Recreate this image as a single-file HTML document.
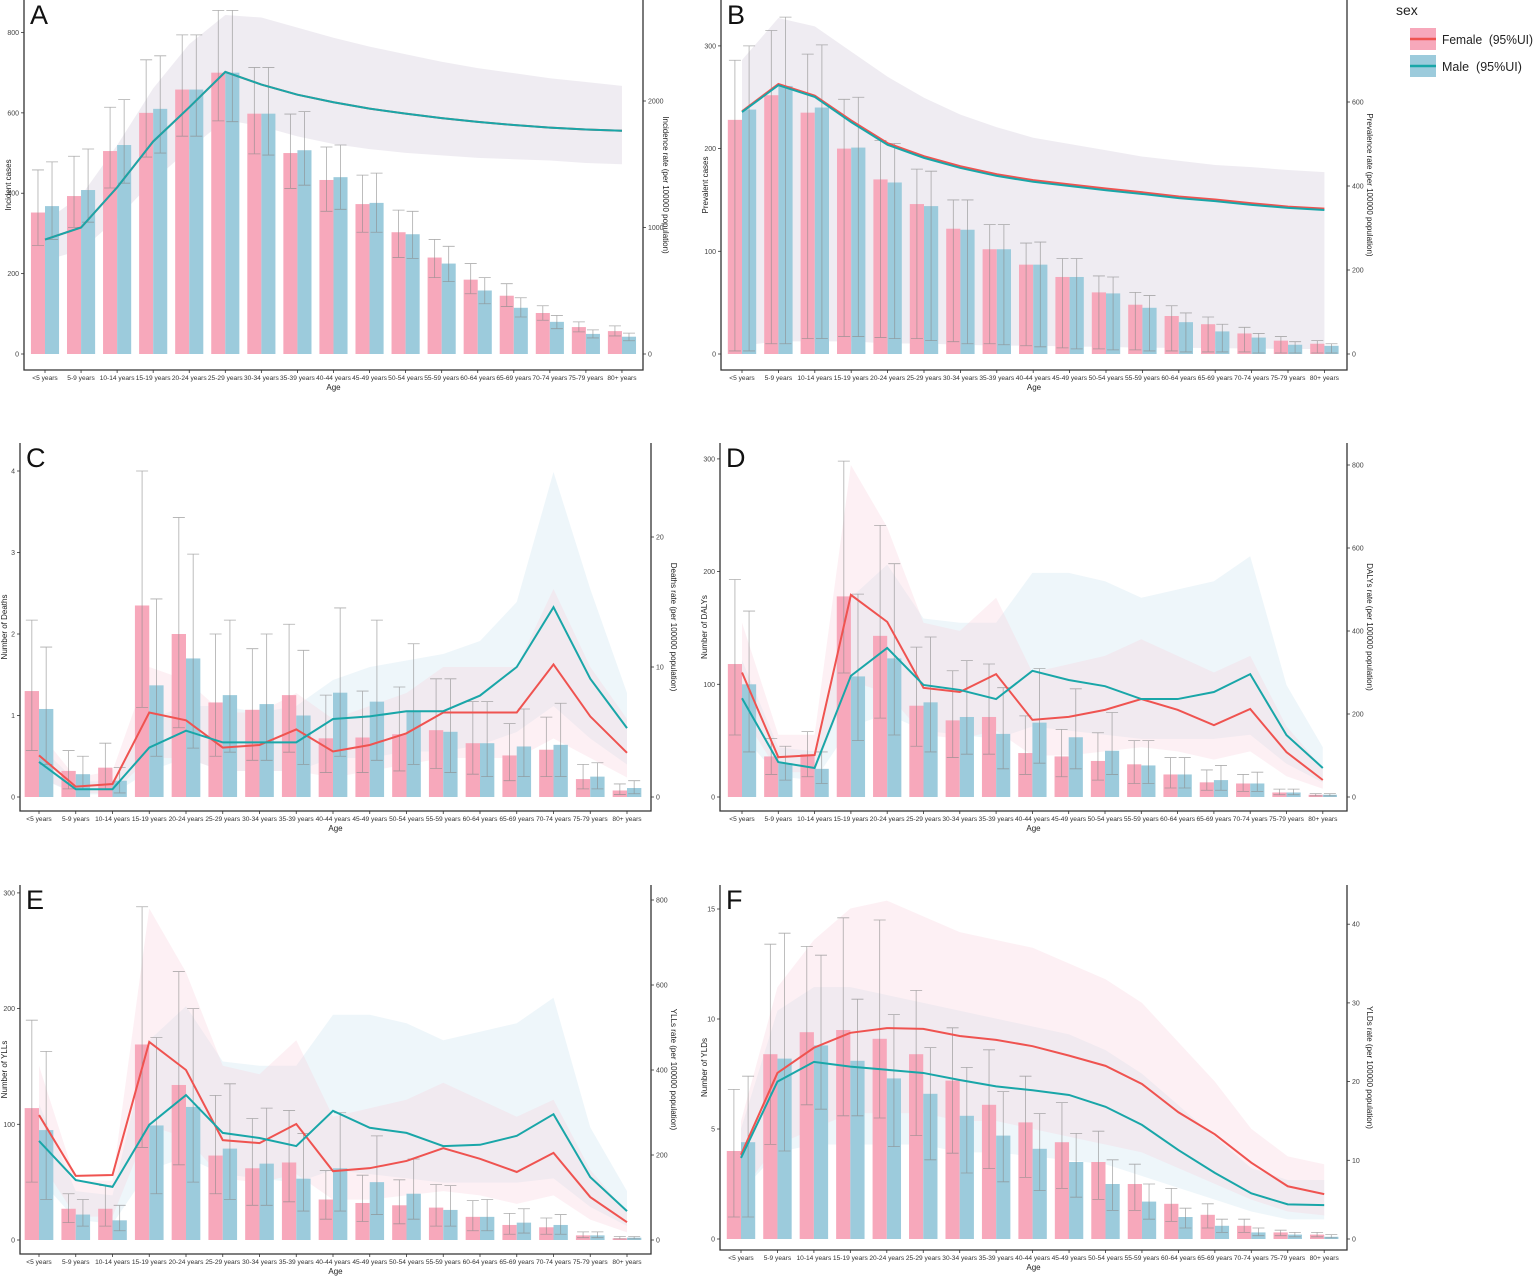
<!DOCTYPE html>
<html><head><meta charset="utf-8"><style>
html,body{margin:0;padding:0;background:#fff;}
svg{display:block;font-family:"Liberation Sans",sans-serif;}
</style></head><body>
<svg id="chart" width="1535" height="1278" viewBox="0 0 1535 1278" xmlns="http://www.w3.org/2000/svg">
<g>
<text x="1396" y="15" font-size="14" fill="#222">sex</text>
<g>
<rect x="1410" y="28" width="26" height="22" fill="#f7a8bb"/>
<line x1="1410" y1="39" x2="1436" y2="39" stroke="#ef5350" stroke-width="2.5"/>
<text x="1442" y="44" font-size="12.5" fill="#222" textLength="91" lengthAdjust="spacingAndGlyphs">Female &#160;(95%UI)</text></g>
<g>
<rect x="1410" y="55" width="26" height="22" fill="#9ccbdc"/>
<line x1="1410" y1="66" x2="1436" y2="66" stroke="#19a6a8" stroke-width="2.5"/>
<text x="1442" y="71" font-size="12.5" fill="#222">Male &#160;(95%UI)</text></g>
</g>
</svg>
<script>
const ages=["<5 years","5-9 years","10-14 years","15-19 years","20-24 years","25-29 years","30-34 years","35-39 years","40-44 years","45-49 years","50-54 years","55-59 years","60-64 years","65-69 years","70-74 years","75-79 years","80+ years"];

// Panel A
const A_fBar=[352,393,505,600,658,700,598,500,433,373,303,240,185,145,102,67,57];
const A_mBar=[368,408,520,610,658,700,598,507,440,376,298,225,158,115,80,50,43];
const A_fLo=[270,315,413,490,542,580,498,412,355,303,240,190,150,118,84,55,45];
const A_fHi=[458,492,614,732,794,855,713,597,515,445,358,285,225,175,120,80,70];
const A_mLo=[285,328,425,500,542,578,495,420,360,303,238,180,125,92,63,40,33];
const A_mHi=[478,510,633,742,794,855,713,603,520,450,355,268,190,140,96,60,52];
const A_fRate=[905,1000,1317,1680,1950,2230,2130,2050,1990,1940,1900,1865,1835,1810,1790,1775,1765];
const A_mRate=[905,1000,1317,1680,1950,2230,2130,2050,1990,1940,1900,1865,1835,1810,1790,1775,1765];
const A_bandHi=[1050,1250,1650,2100,2450,2680,2660,2580,2500,2430,2370,2310,2260,2220,2180,2150,2120];
const A_bandLo=[740,820,1070,1370,1620,1850,1800,1720,1660,1620,1590,1570,1550,1540,1530,1510,1500];
const A_leftTicks=[0,200,400,600,800];
const A_rightTicks=[0,1000,2000];

// Panel B
const B_fBar=[228,252,235,200,170,146,122,102,87,75,60,48,37,29,20,13,10];
const B_mBar=[238,261,240,201,167,144,121,102,87,75,59,45,31,22,16,9,8];
const B_fLo=[3,10,15,17,16,15,12,10,8,6,5,4,3,2,2,1,1];
const B_fHi=[286,315,292,248,208,180,150,126,108,93,76,60,47,36,26,17,13];
const B_mLo=[3,10,15,17,15,13,10,9,7,5,4,3,2,2,1,1,1];
const B_mHi=[300,328,301,250,205,178,150,126,109,93,75,57,40,29,20,12,10];
const B_fRate=[578,643,615,556,502,471,447,428,414,404,394,385,375,368,359,351,346];
const B_mRate=[576,640,612,552,498,467,443,424,410,400,390,381,371,364,355,348,343];
const B_bandHi=[700,800,780,720,660,610,570,540,515,500,485,470,460,450,445,438,433];
const B_bandLo=[20,30,30,30,25,25,22,20,20,18,17,15,15,14,13,12,12];
const B_leftTicks=[0,100,200,300];
const B_rightTicks=[0,200,400,600];

// Panel C
const C_fBar=[1.3,0.32,0.36,2.35,2.0,1.16,1.07,1.25,0.72,0.73,0.77,0.82,0.66,0.51,0.58,0.22,0.08];
const C_mBar=[1.08,0.28,0.2,1.37,1.7,1.25,1.14,1.0,1.28,1.17,1.05,0.8,0.66,0.62,0.64,0.25,0.11];
const C_fLo=[0.57,0.1,0.1,1.1,0.85,0.5,0.45,0.55,0.3,0.3,0.32,0.35,0.28,0.2,0.25,0.1,0.03];
const C_fHi=[2.17,0.57,0.66,4.0,3.43,2.0,1.82,2.12,1.25,1.3,1.35,1.45,1.17,0.9,0.98,0.4,0.16];
const C_mLo=[0.4,0.1,0.05,0.5,0.6,0.55,0.45,0.4,0.5,0.45,0.4,0.3,0.25,0.25,0.25,0.1,0.04];
const C_mHi=[1.84,0.5,0.36,2.43,2.98,2.17,2.0,1.8,2.32,2.17,1.88,1.45,1.17,1.08,1.15,0.42,0.2];
const C_fRate=[3.2,0.8,1.0,6.5,5.9,3.8,4.0,5.2,3.5,4.0,4.9,6.5,6.5,6.5,10.2,6.2,3.4];
const C_mRate=[2.7,0.6,0.6,3.8,5.1,4.2,4.2,4.2,6.0,6.2,6.6,6.6,7.8,10.0,14.6,9.1,5.3];
const C_fBandHi=[5,1.5,2,10,9,6.5,6.5,8,6,7,8,10,10,10,16,10,6];
const C_fBandLo=[1.5,0.3,0.3,3,3,2,2,2,1.5,2,2.5,3,3,3,4.5,3,1.5];
const C_mBandHi=[4,1.2,1.2,6,7,7,6.5,7,9,10,10.5,11,12,15,25,16,8];
const C_mBandLo=[1.5,0.2,0.2,2,3,2,2,2,3,3,3.5,3.5,4,5,7,4.5,2.5];
const C_leftTicks=[0,1,2,3,4];
const C_rightTicks=[0,10,20];

// Panel D
const D_fBar=[118,36,38,178,143,81,68,71,39,36,32,29,20,13,12,4,2];
const D_mBar=[100,30,25,107,123,84,71,56,66,53,41,28,20,15,12,4,2];
const D_fLo=[55,20,18,110,70,45,35,38,20,18,15,12,8,6,5,2,1];
const D_fHi=[193,52,58,298,241,133,112,118,72,60,57,50,35,24,20,7,3];
const D_mLo=[40,15,12,50,55,40,38,25,30,25,20,12,8,6,5,2,1];
const D_mHi=[165,45,40,180,207,142,121,97,114,96,75,50,35,28,22,7,3];
const D_fRate=[300,96,101,487,422,263,253,296,186,193,210,236,210,173,212,108,41];
const D_mRate=[238,84,70,292,359,270,258,236,304,282,267,236,236,253,296,149,70];
const D_fBandHi=[420,150,150,800,650,420,400,480,300,320,340,380,340,300,340,170,70];
const D_fBandLo=[200,60,60,280,250,150,140,160,100,100,110,120,110,90,110,50,20];
const D_mBandHi=[330,120,110,480,560,430,420,420,540,540,520,480,500,520,580,270,120];
const D_mBandLo=[150,50,40,170,200,160,150,140,170,160,150,140,140,140,150,80,35];
const D_leftTicks=[0,100,200,300];
const D_rightTicks=[0,200,400,600,800];

// Panel E
const E_fBar=[114,27,27,169,134,73,62,67,35,32,30,28,20,13,11,4,1.5];
const E_mBar=[95,22,17,99,115,79,66,53,62,50,40,26,20,15,13,4,2];
const E_fLo=[50,15,12,80,65,40,30,33,18,16,14,12,8,5,5,2,1];
const E_fHi=[190,40,47,288,232,125,105,112,60,56,52,48,34,23,19,7,3];
const E_mLo=[35,12,8,40,50,35,30,25,25,22,18,12,8,6,5,2,1];
const E_mHi=[163,35,30,175,200,135,114,92,110,90,70,47,35,27,22,7,3];
const E_fRate=[294,151,153,466,400,235,228,273,162,169,186,216,191,160,205,101,42];
const E_mRate=[233,141,125,271,341,252,240,221,304,264,252,221,224,245,296,148,68];
const E_fBandHi=[410,140,140,780,630,410,390,470,290,310,330,370,330,290,330,165,65];
const E_fBandLo=[190,55,55,270,240,145,135,155,95,95,105,115,105,85,105,48,18];
const E_mBandHi=[320,115,105,470,550,420,410,410,530,530,510,470,490,510,570,265,115];
const E_mBandLo=[145,48,38,165,195,155,145,135,165,155,145,135,135,135,145,78,33];
const E_leftTicks=[0,100,200,300];
const E_rightTicks=[0,200,400,600,800];

// Panel F
const F_fBar=[4.0,8.4,9.4,9.5,9.1,8.4,7.2,6.1,5.3,4.4,3.5,2.5,1.6,1.1,0.6,0.3,0.2];
const F_mBar=[4.4,8.2,8.8,8.1,7.3,6.6,5.6,4.7,4.1,3.5,2.5,1.7,1.0,0.6,0.3,0.2,0.1];
const F_fLo=[1.0,4.3,6.1,5.6,5.5,4.7,3.9,3.2,2.8,2.3,1.8,1.3,0.8,0.5,0.3,0.15,0.1];
const F_fHi=[6.8,13.4,13.3,14.6,14.5,11.3,9.6,8.6,7.4,6.2,4.9,3.4,2.3,1.6,0.9,0.4,0.3];
const F_mLo=[1.0,4.0,5.9,5.6,4.2,3.6,3.0,2.6,2.2,1.9,1.3,0.9,0.5,0.3,0.15,0.1,0.05];
const F_mHi=[7.4,13.9,12.9,10.9,10.2,8.7,7.8,6.7,5.7,4.8,3.6,2.5,1.4,0.9,0.5,0.3,0.2];
const F_fRate=[10.7,21.1,24.3,26.2,26.8,26.7,25.8,25.3,24.5,23.3,22.0,19.7,16.1,13.3,9.7,6.7,5.7];
const F_mRate=[10.3,20.0,22.5,21.9,21.5,21.1,20.2,19.4,18.9,18.3,16.8,14.5,11.3,8.4,5.8,4.4,4.3];
const F_fBandHi=[15,32,38,42,43,41,39,38,37,35,33,30,25,20,14,10.5,9.5];
const F_fBandLo=[6,12,14,16,16,16,15,15,14,13,12,11,9,7,5,3.5,3];
const F_mBandHi=[14,29,32,32,31,30,29,28,27,26,24,21,17,13,9,7.5,7.5];
const F_mBandLo=[6,11,12,12,12,12,11,11,10.5,10,9.5,8,6.5,5,3.5,2.5,2.5];
const F_leftTicks=[0,5,10,15];
const F_rightTicks=[0,10,20,30,40];

const NS="http://www.w3.org/2000/svg";
const svg=document.getElementById('chart');
function mk(tag,attrs,parent){const e=document.createElementNS(NS,tag);for(const k in attrs)e.setAttribute(k,attrs[k]);(parent||svg).appendChild(e);return e;}

function panel(c){
  const g=mk('g',{});
  
  
  const xs=i=>c.x0+i*c.dx;
  const yl=v=>c.zero-v*c.lp;
  const yr=v=>c.zero-v*c.rp;
  const band=(hi,lo,fill,name)=>{
    let d='M'+hi.map((v,i)=>xs(i)+','+yr(v)).join('L')+'L'+lo.map((v,i)=>[xs(i),yr(v)]).reverse().map(p=>p.join(',')).join('L')+'Z';
    const p=mk('path',{d:d,fill:fill},g);
    
    
  };
  if(c.bandHi){band(c.bandHi,c.bandLo,'rgba(225,220,232,0.55)','rate-ui-band');}
  else{band(c.mBandHi,c.mBandLo,'rgba(205,228,242,0.35)','male-rate-ui-band');band(c.fBandHi,c.fBandLo,'rgba(250,205,218,0.3)','female-rate-ui-band');}
  const bw=c.dx*0.39;
  for(let i=0;i<ages.length;i++){
    const fb=mk('rect',{x:xs(i)-bw,y:yl(c.fBar[i]),width:bw,height:c.fBar[i]*c.lp,fill:'#f7a8bb'},g);
    
    
    const mb=mk('rect',{x:xs(i),y:yl(c.mBar[i]),width:bw,height:c.mBar[i]*c.lp,fill:'#9ccbdc'},g);
    
    
  }
  const eb=(cx,lo,hi,name)=>{
    const e=mk('path',{d:`M${cx},${yl(lo)}V${yl(hi)}M${cx-6},${yl(lo)}H${cx+6}M${cx-6},${yl(hi)}H${cx+6}`,stroke:'#8a8a8a','stroke-opacity':0.7,'stroke-width':0.8,fill:'none'},g);
    
    
  };
  for(let i=0;i<ages.length;i++){eb(xs(i)-bw/2,c.fLo[i],c.fHi[i],'female-errorbar-'+i);eb(xs(i)+bw/2,c.mLo[i],c.mHi[i],'male-errorbar-'+i);}
  const line=(arr,col,name)=>{
    const l=mk('polyline',{points:arr.map((v,i)=>xs(i)+','+yr(v)).join(' '),fill:'none',stroke:col,'stroke-width':2},g);
    
    
  };
  line(c.fRate,'#ef5350','female-rate-line');
  line(c.mRate,'#19a6a8','male-rate-line');
  const ax=mk('path',{d:`M${c.lx},${c.top}V${c.bottom}H${c.rx}V${c.top}`,stroke:'#333','stroke-width':1.3,fill:'none'},g);
  
  
  c.lt.forEach(v=>{
    mk('line',{x1:c.lx-3,x2:c.lx,y1:yl(v),y2:yl(v),stroke:'#333','stroke-width':0.8},g);
    const t=mk('text',{x:c.lx-5,y:yl(v)+2.5,'font-size':7,'text-anchor':'end',fill:'#444'},g);t.textContent=v;
    
    
  });
  c.rt.forEach(v=>{
    mk('line',{x1:c.rx,x2:c.rx+3,y1:yr(v),y2:yr(v),stroke:'#333','stroke-width':0.8},g);
    const t=mk('text',{x:c.rx+5,y:yr(v)+2.5,'font-size':7,fill:'#444'},g);t.textContent=v;
    
    
  });
  ages.forEach((a,i)=>{
    mk('line',{x1:xs(i),x2:xs(i),y1:c.bottom,y2:c.bottom+3,stroke:'#333','stroke-width':0.8},g);
    const t=mk('text',{x:xs(i),y:c.bottom+10,'font-size':6.6,'text-anchor':'middle',fill:'#333'},g);t.textContent=a;
    
    
  });
  const midx=(c.lx+c.rx)/2, midy=(c.top+c.bottom)/2;
  const xt=mk('text',{x:midx,y:c.bottom+20,'font-size':8,'text-anchor':'middle',fill:'#222'},g);xt.textContent='Age';
  
  
  const yt=mk('text',{x:0,y:0,'font-size':8,'text-anchor':'middle',fill:'#222',transform:`translate(${c.lx-13},${midy}) rotate(-90)`},g);yt.textContent=c.ltitle;
  
  
  const rt=mk('text',{x:0,y:0,'font-size':8,'text-anchor':'middle',fill:'#222',transform:`translate(${c.rx+20},${midy}) rotate(90)`},g);rt.textContent=c.rtitle;
  
  
  const lt=mk('text',{x:c.lx+6,y:c.top+24,'font-size':27,fill:'#111'},g);lt.textContent=c.letter;
  
  
}

panel({letter:'A',x0:45,dx:36.06,zero:354,lp:0.4019,rp:0.1265,lx:24,rx:643,top:0,bottom:370,
  fBar:A_fBar,mBar:A_mBar,fLo:A_fLo,fHi:A_fHi,mLo:A_mLo,mHi:A_mHi,fRate:A_fRate,mRate:A_mRate,bandHi:A_bandHi,bandLo:A_bandLo,
  lt:A_leftTicks,rt:A_rightTicks,ltitle:'Incident cases',rtitle:'Incidence rate (per 100000 population)'});
panel({letter:'B',x0:742,dx:36.4,zero:354,lp:1.027,rp:0.42,lx:721,rx:1347,top:0,bottom:370,
  fBar:B_fBar,mBar:B_mBar,fLo:B_fLo,fHi:B_fHi,mLo:B_mLo,mHi:B_mHi,fRate:B_fRate,mRate:B_mRate,bandHi:B_bandHi,bandLo:B_bandLo,
  lt:B_leftTicks,rt:B_rightTicks,ltitle:'Prevalent cases',rtitle:'Prevalence rate (per 100000 population)'});
panel({letter:'C',x0:39,dx:36.75,zero:797,lp:81.5,rp:13.0,lx:20,rx:651,top:443,bottom:811,
  fBar:C_fBar,mBar:C_mBar,fLo:C_fLo,fHi:C_fHi,mLo:C_mLo,mHi:C_mHi,fRate:C_fRate,mRate:C_mRate,
  fBandHi:C_fBandHi,fBandLo:C_fBandLo,mBandHi:C_mBandHi,mBandLo:C_mBandLo,
  lt:C_leftTicks,rt:C_rightTicks,ltitle:'Number of Deaths',rtitle:'Deaths rate (per 100000 population)'});
panel({letter:'D',x0:742,dx:36.3,zero:797,lp:1.127,rp:0.415,lx:720,rx:1347,top:443,bottom:811,
  fBar:D_fBar,mBar:D_mBar,fLo:D_fLo,fHi:D_fHi,mLo:D_mLo,mHi:D_mHi,fRate:D_fRate,mRate:D_mRate,
  fBandHi:D_fBandHi,fBandLo:D_fBandLo,mBandHi:D_mBandHi,mBandLo:D_mBandLo,
  lt:D_leftTicks,rt:D_rightTicks,ltitle:'Number of DALYs',rtitle:'DALYs rate (per 100000 population)'});
panel({letter:'E',x0:39,dx:36.75,zero:1240,lp:1.157,rp:0.425,lx:20,rx:651,top:885,bottom:1254,
  fBar:E_fBar,mBar:E_mBar,fLo:E_fLo,fHi:E_fHi,mLo:E_mLo,mHi:E_mHi,fRate:E_fRate,mRate:E_mRate,
  fBandHi:E_fBandHi,fBandLo:E_fBandLo,mBandHi:E_mBandHi,mBandLo:E_mBandLo,
  lt:E_leftTicks,rt:E_rightTicks,ltitle:'Number of YLLs',rtitle:'YLLs rate (per 100000 population)'});
panel({letter:'F',x0:741,dx:36.45,zero:1239,lp:22,rp:7.87,lx:720,rx:1347,top:885,bottom:1250,
  fBar:F_fBar,mBar:F_mBar,fLo:F_fLo,fHi:F_fHi,mLo:F_mLo,mHi:F_mHi,fRate:F_fRate,mRate:F_mRate,
  fBandHi:F_fBandHi,fBandLo:F_fBandLo,mBandHi:F_mBandHi,mBandLo:F_mBandLo,
  lt:F_leftTicks,rt:F_rightTicks,ltitle:'Number of YLDs',rtitle:'YLDs rate (per 100000 population)'});
</script>
</body></html>
